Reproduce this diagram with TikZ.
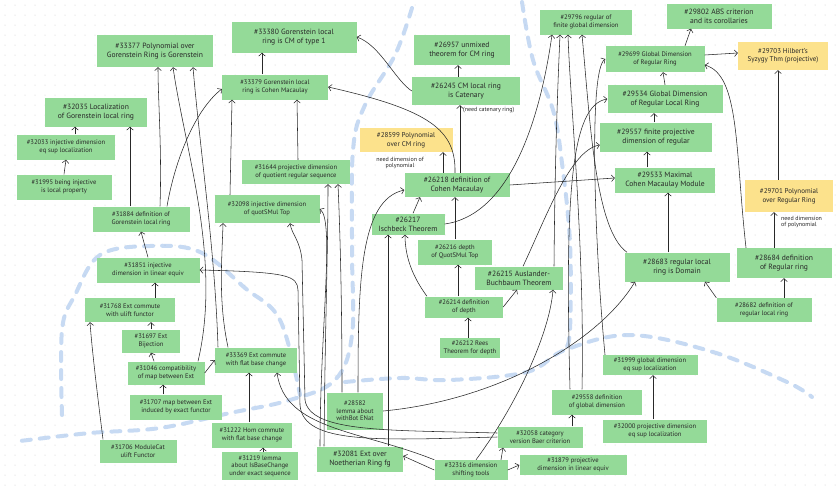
\documentclass[tikz,border=0pt]{standalone}
\usepackage{fontspec}
\setmainfont{PT Sans}
\usetikzlibrary{arrows.meta,calc}
\definecolor{gfill}{RGB}{148,218,152}
\definecolor{yfill}{RGB}{252,226,140}
\definecolor{bdash}{RGB}{110,160,225}
\definecolor{ink}{RGB}{40,40,40}
\definecolor{dotc}{RGB}{200,200,200}
\tikzset{
 box/.style={fill=gfill, text=ink, align=center, inner sep=1pt, font=\fontsize{6.6}{7.6}\selectfont},
 bigbox/.style={box, font=\fontsize{7.6}{9}\selectfont},
 ybox/.style={box, fill=yfill, font=\fontsize{7}{8.5}\selectfont},
 ed/.style={draw=ink, line width=0.55pt, -{Straight Barb[length=3pt,width=6.5pt]}},
 note/.style={text=ink, font=\fontsize{6}{6.8}\selectfont, inner sep=0pt, align=left},
 bluedash/.style={draw=bdash, opacity=0.38, line width=4pt, dash pattern=on 9pt off 9pt, line cap=round},
}
\newcommand{\bx}[6]{\node[#1, minimum width=#4pt, minimum height=#5pt] (#2) at (#3) {#6};}
\begin{document}
\begin{tikzpicture}[x=1pt,y=-1pt]
\fill[white] (0,0) rectangle (840,493);
\useasboundingbox (0,0) rectangle (840,493);
\foreach \i in {0,...,83}{\foreach \j in {0,...,48}{\fill[dotc] (5+\i*10,5+\j*10) circle[radius=0.5pt];}}
% blue dashed background strokes
\draw[bluedash] plot[smooth, tension=0.6] coordinates {(412,8) (395,55) (365,105) (353,150) (352,250) (352,335) (335,380) (290,400) (230,413) (160,428) (90,433) (20,441)};
\draw[bluedash] plot[smooth, tension=0.6] coordinates {(345,382) (400,378) (450,380) (527,372) (565,350) (630,335) (713,352) (787,382) (812,397)};
\draw[bluedash] plot[smooth, tension=0.6] coordinates {(522,2) (533,60) (553,110) (562,163) (570,243) (570,330) (565,350)};
\draw[bluedash] plot[smooth, tension=0.6] coordinates {(62,415) (62,330) (75,295) (100,255) (150,246) (200,252) (245,288) (280,320) (300,395)};
% nodes
\bx{bigbox}{n33377}{155,51}{116}{32}{\#33377 Polynomial over\\Gorenstein Ring is Gorenstein}
\bx{bigbox}{n33380}{294,37}{125}{31}{\#33380 Gorenstein local\\ring is CM of type 1}
\bx{bigbox}{n26957}{462,50}{96}{30}{\#26957 unmixed\\theorem for CM ring}
\bx{box}{n29796}{586,22}{92}{25}{\#29796 regular of\\finite global dimension}
\bx{bigbox}{n29802}{719,16}{105}{25}{\#29802 ABS criterion\\and its corollaries}
\bx{box}{n29699}{655,59}{99}{26}{\#29699 Global Dimension\\of Regular Ring}
\bx{ybox}{n29703}{783,56}{90}{28}{\#29703 Hilbert's\\Syzygy Thm (projective)}
\bx{bigbox}{n29534}{665,99}{115}{28}{\#29534 Global Dimension\\of Regular Local Ring}
\bx{bigbox}{n29557}{656,137}{112}{29}{\#29557 finite projective\\dimension of regular}
\bx{bigbox}{n29533}{665,180}{100}{25}{\#29533 Maximal\\Cohen Macaulay Module}
\bx{ybox}{n29701}{789,196}{88}{32}{\#29701 Polynomial\\over Regular Ring}
\bx{bigbox}{n28684}{784,263}{95}{30}{\#28684 definition\\of Regular ring}
\bx{bigbox}{n28683}{677,267}{105}{29}{\#28683 regular local\\ring is Domain}
\bx{box}{n28682}{764,310}{95}{24}{\#28682 definition of\\regular local ring}
\bx{bigbox}{n26245}{466,91}{108}{28}{\#26245 CM local ring\\is Catenary}
\bx{ybox}{n28599}{406,140}{93}{24}{\#28599 Polynomial\\over CM ring}
\bx{bigbox}{n26218}{457,185}{105}{24}{\#26218 definition of\\Cohen Macaulay}
\bx{bigbox}{n26217}{408,224}{73}{21}{\#26217\\Ischbeck Theorem}
\bx{box}{n26216}{455,252}{74}{25}{\#26216 depth\\of QuotSMul Top}
\bx{bigbox}{n26215}{519,278}{88}{23}{\#26215 Auslander-\\Buchbaum Theorem}
\bx{box}{n26214}{464,307}{78}{21}{\#26214 definition\\of depth}
\bx{box}{n26212}{470,348}{60}{20}{\#26212 Rees\\Theorem for depth}
\bx{bigbox}{n32035}{96,112}{102}{29}{\#32035 Localization\\of Gorenstein local ring}
\bx{box}{n32033}{66,147}{98}{25}{\#32033 injective dimension\\eq sup localization}
\bx{box}{n31995}{64,187}{95}{25}{\#31995 being injective\\is local property}
\bx{box}{n31884}{141,219}{97}{25}{\#31884 definition of\\Gorenstein local ring}
\bx{box}{n33379}{275,87}{106}{25}{\#33379 Gorenstein local\\ring is Cohen Macaulay}
\bx{box}{n31644}{296,172}{108}{24}{\#31644 projective dimension\\of quotient regular sequence}
\bx{box}{n32098}{267,209}{105}{28}{\#32098 injective dimension\\of quotSMul Top}
\bx{box}{n31851}{148,270}{103}{25}{\#31851 injective\\dimension in linear equiv}
\bx{box}{n31768}{130,310}{90}{24}{\#31768 Ext commute\\with ulift functor}
\bx{box}{n31697}{151,341}{58}{23}{\#31697 Ext\\Bijection}
\bx{box}{n31046}{166,373}{77}{23}{\#31046 compatibility\\of map between Ext}
\bx{box}{n31707}{176,407}{92}{25}{\#31707 map between Ext\\induced by exact functor}
\bx{box}{n31706}{138,451}{77}{23}{\#31706 ModuleCat\\ulift Functor}
\bx{box}{n33369}{256,360}{82}{25}{\#33369 Ext commute\\with flat base change}
\bx{box}{n31222}{252,435}{80}{25}{\#31222 Hom commute\\with flat base change}
\bx{box}{n31219}{260,466}{76}{28}{\#31219 lemma\\about IsBaseChange\\under exact sequence}
\bx{box}{n28582}{355,411}{56}{37}{\#28582\\lemma about\\withBot ENat}
\bx{bigbox}{n32081}{360,459}{86}{25}{\#32081 Ext over\\Noetherian Ring fg}
\bx{box}{n32316}{471,470}{73}{20}{\#32316 dimension\\shifting tools}
\bx{box}{n31879}{573,465}{107}{20}{\#31879 projective\\dimension in linear equiv}
\bx{box}{n32058}{540,437}{85}{21}{\#32058 category\\version Baer criterion}
\bx{box}{n29558}{597,402}{90}{25}{\#29558 definition\\of global dimension}
\bx{box}{n31999}{650,365}{95}{20}{\#31999 global dimension\\eq sup localization}
\bx{box}{n32000}{655,431}{104}{23}{\#32000 projective dimension\\eq sup localization}
% annotations
\node[note, anchor=west] (a1) at (463,110) {(need catenary ring)};
\node[note, align=center] (a2) at (400,163) {need dimension of\\polynomial};
\node[note, anchor=west] (a3) at (781,222) {need dimension\\of polynomial};
% edges: left cluster
\draw[ed] (n31995.north) -- (n32033.south);
\draw[ed] ([xshift=9pt]n32033.north) -- ([xshift=-21pt]n32035.south);
\draw[ed] ([xshift=-11pt]n31884.north) -- ([xshift=34pt]n32035.south);
\draw[ed] ([xshift=19pt]n31884.north) .. controls (162,150) and (158,100) .. ([xshift=3pt]n33377.south);
\draw[ed] ([xshift=26pt]n31884.north) .. controls (175,160) and (195,110) .. ([yshift=-2pt]n33379.west);
\draw[ed] (n31851.north) -- (n31884.south);
\draw[ed] ([xshift=25pt]n31768.north) -- ([xshift=7pt]n31851.south);
\draw[ed] (n31697.north) -- ([xshift=21pt]n31768.south);
\draw[ed] ([xshift=-12pt]n31046.north) -- (n31697.south);
\draw[ed] ([xshift=-13pt]n31707.north) -- ([xshift=-3pt]n31046.south);
\draw[ed] ([xshift=-35pt]n31706.north) .. controls (98,400) and (92,350) .. ([xshift=-40pt]n31768.south);
\draw[ed] (n31046.east) -- (n33369.west);
\draw[ed] ([xshift=32pt]n31046.north) .. controls (222,260) and (185,150) .. ([xshift=18pt]n33377.south);
\draw[ed] ([xshift=-38pt]n33369.north) .. controls (215,250) and (200,150) .. ([xshift=38pt]n33377.south);
\draw[ed] ([xshift=-28pt]n33369.north) .. controls (218,300) and (222,260) .. ([xshift=-44pt]n32098.south);
\draw[ed] ([xshift=-37pt]n32098.north) -- ([xshift=-43pt]n33379.south);
\draw[ed] ([xshift=-3pt]n31222.north) -- ([xshift=-7pt]n33369.south);
\draw[ed] ([xshift=3pt]n31219.north) -- ([xshift=11pt]n31222.south);
\draw[ed] (n32316.north west) .. controls (360,430) and (285,430) .. ([xshift=21pt]n33369.south);
\draw[ed] (n32316.west) -- ([yshift=3pt]n32081.east);
\draw[ed] (n32316.east) -- (n31879.west);
\draw[ed] ([xshift=30pt]n32316.north) -- ([xshift=-37pt]n32058.south);
\draw[ed] ([xshift=5pt]n32316.north) .. controls (520,400) and (550,330) .. ([xshift=34pt]n26215.south);
\draw[ed] (n32058.west) .. controls (380,440) and (303,445) .. (300,405) -- (298,290) .. controls (297,276) and (290,272) .. (n31851.east);
\draw[ed] ([yshift=4pt]n32058.west) .. controls (390,430) and (310,433) .. (305,400) -- (302,260) .. controls (300,240) and (292,235) .. ([xshift=23pt]n32098.south);
% middle
\draw[ed] ([xshift=-36pt]n32081.north) .. controls (325,330) and (328,250) .. ([xshift=32pt]n31644.south);
\draw[ed] ([xshift=-40pt]n32081.north) .. controls (320,330) and (335,220) .. (n32098.east);
\draw[ed] ([xshift=-13pt]n28582.north) .. controls (342,300) and (340,230) .. ([xshift=42pt]n31644.south);
\draw[ed] ([xshift=3pt]n28582.north) .. controls (358,280) and (360,200) .. ([yshift=-5pt]n26218.west);
\draw[ed] ([xshift=28pt]n32081.north) -- ([xshift=-20pt]n26217.south);
\draw[ed] (n28582.east) .. controls (500,400) and (600,340) .. ([xshift=-42pt]n28683.south);
\draw[ed] ([xshift=2pt]n31644.north) -- ([xshift=22pt]n33379.south);
\draw[ed] ([xshift=-13pt]n33379.north) -- ([xshift=-32pt]n33380.south);
\draw[ed] ([xshift=-2pt]n26218.north) .. controls (456,130) and (430,110) .. (n33379.east);
\draw[ed] ([xshift=3pt]n26218.north) -- ([xshift=-6pt]n26245.south);
\draw[ed] ([xshift=-8pt]n26245.north) -- ([xshift=-4pt]n26957.south);
\draw[ed] ([xshift=-14pt]n26218.north) -- ([xshift=37pt]n28599.south);
\draw[ed] (n26245.west) .. controls (395,80) and (380,45) .. (n33380.east);
\draw[ed] ([xshift=5pt]n26217.north) -- ([xshift=-37pt]n26218.south);
\draw[ed] (n26216.north) -- ([xshift=-2pt]n26218.south);
\draw[ed] ([xshift=-6pt]n26214.north) -- ([xshift=3pt]n26216.south);
\draw[ed] ([xshift=-2pt]n26212.north) -- ([xshift=4pt]n26214.south);
\draw[ed] (n26214.east) -- ([xshift=-2pt]n26215.south);
\draw[ed] ([xshift=-37pt]n26214.north) .. controls (415,280) and (405,260) .. ([xshift=-3pt]n26217.south);
\draw[ed] (n26218.east) -- ([yshift=2pt]n29533.west);
% right cluster
\draw[ed] (n26217.east) .. controls (510,215) and (540,120) .. ([xshift=-34pt]n29796.south);
\draw[ed] ([xshift=35pt]n26215.north) .. controls (555,150) and (558,80) .. ([xshift=-26pt]n29796.south);
\draw[ed] ([xshift=4pt]n26215.north) .. controls (545,220) and (570,150) .. ([yshift=-8pt]n29557.west);
\draw[ed] ([xshift=-15pt]n29558.north) .. controls (585,250) and (570,100) .. ([xshift=-18pt]n29796.south);
\draw[ed] ([xshift=-27pt]n29558.north) .. controls (565,200) and (570,105) .. (n29534.west);
\draw[ed] ([xshift=-45pt]n31999.north) .. controls (595,250) and (588,70) .. (n29699.west);
\draw[ed] ([xshift=-50pt]n28683.north) .. controls (595,230) and (590,120) .. ([xshift=-4pt]n29796.south);
\draw[ed] ([xshift=32pt]n32058.north) -- ([xshift=-25pt]n29558.south);
\draw[ed] ([xshift=-2pt]n32000.north) -- ([xshift=3pt]n31999.south);
\draw[ed] ([xshift=-9pt]n28683.north) -- ([xshift=3pt]n29533.south);
\draw[ed] (n28682.north west) -- ([xshift=28pt]n28683.south);
\draw[ed] ([xshift=20pt]n28682.north) -- (n28684.south);
\draw[ed] ([xshift=-10pt]n28684.north) -- ([xshift=-15pt]n29701.south);
\draw[ed] ([xshift=-11pt]n29701.north) -- ([xshift=-5pt]n29703.south);
\draw[ed] ([xshift=-38pt]n28684.north) .. controls (735,150) and (740,75) .. ([yshift=-6pt]n29699.east);
\draw[ed] ([yshift=4pt]n29699.east) -- ([yshift=3pt]n29703.west);
\draw[ed] ([xshift=30pt]n29699.north) -- ([xshift=-28pt]n29802.south);
\draw[ed] (n29534.north) -- ([xshift=8pt]n29699.south);
\draw[ed] ([xshift=-2pt]n29557.north) -- ([xshift=-11pt]n29534.south);
\draw[ed] ([xshift=-18pt]n29533.north) -- ([xshift=-9pt]n29557.south);
\end{tikzpicture}
\end{document}
